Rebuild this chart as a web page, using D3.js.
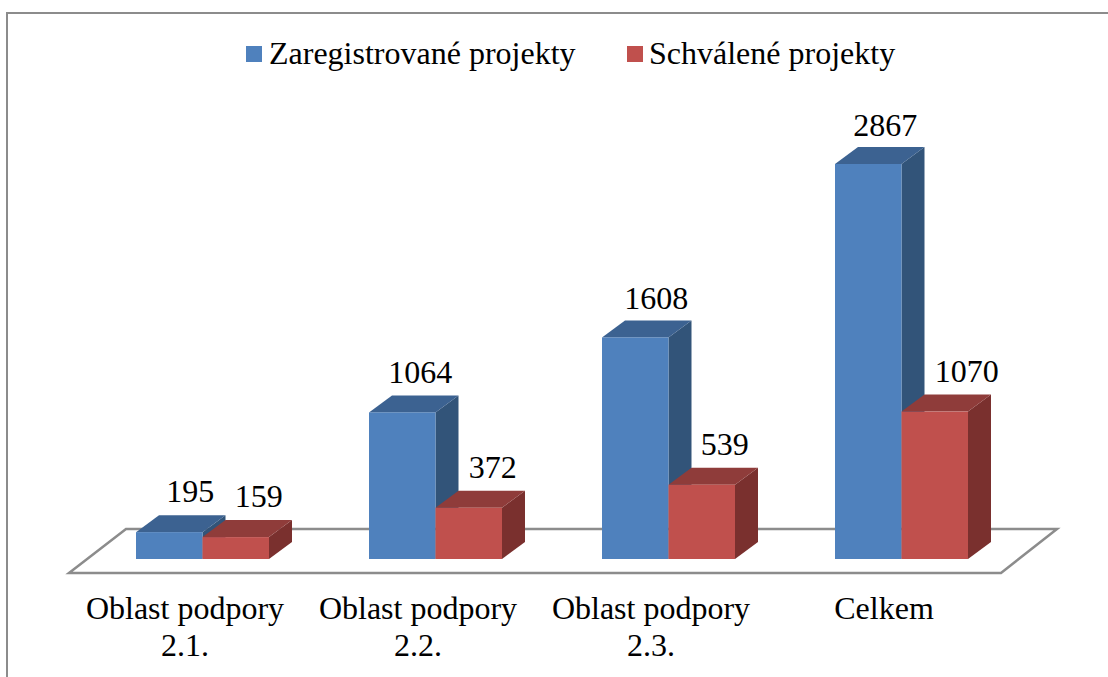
<!DOCTYPE html>
<html>
<head>
<meta charset="utf-8">
<script src="https://cdn.jsdelivr.net/npm/d3@7"></script>
<style>
  html, body { margin: 0; padding: 0; background: #fff; }
  svg { display: block; }
  text { font-family: "Liberation Serif", serif; fill: #000; }
</style>
</head>
<body>
<svg width="1108" height="677"></svg>
<script>
const categories = ['Oblast podpory 2.1.', 'Oblast podpory 2.2.', 'Oblast podpory 2.3.', 'Celkem'];
const seriesNames = ['Zaregistrované projekty', 'Schválené projekty'];
const registered = [195, 1064, 1608, 2867];
const approved = [159, 372, 539, 1070];

// label wrapping for the category axis
const categoryLines = [['Oblast podpory', '2.1.'], ['Oblast podpory', '2.2.'], ['Oblast podpory', '2.3.'], ['Celkem']];

const colors = [
  { front: '#4f81bd', top: '#3c6291', side: '#325479' },
  { front: '#c0504d', top: '#8f3c3a', side: '#7a302e' }
];

const svg = d3.select('svg');
const fontSize = 32;
const baseY = 559;
const depthX = 23;
const depthY = 17;

const x = d3.scaleBand().domain(categories).range([86.5, 1018.5]);
const inner = d3.scaleBand().domain(d3.range(2)).range([49.5, 182.5]);
const y = d3.scaleLinear().domain([0, 2867]).range([baseY, 164]);

// outer frame, only left and top are visible
svg.append('path')
  .attr('d', 'M7,677V13H1108')
  .attr('fill', 'none')
  .attr('stroke', '#8c8c8c')
  .attr('stroke-width', 2);

// floor of the 3d plot
svg.append('path')
  .attr('d', d3.line()([[69, 573], [1001, 573], [1057, 529], [126, 529]]) + 'Z')
  .attr('fill', '#fff')
  .attr('stroke', '#8c8c8c')
  .attr('stroke-width', 2.5);

const points = [];
categories.forEach((c, i) => {
  points.push({ cat: c, s: 0, v: registered[i], i });
  points.push({ cat: c, s: 1, v: approved[i], i });
});

const bars = svg.append('g')
  .selectAll('g')
  .data(points)
  .join('g');

const barW = inner.bandwidth();
const barX = d => x(d.cat) + inner(d.s);

// side face
bars.append('path')
  .attr('fill', d => colors[d.s].side)
  .attr('d', d => {
    const r = barX(d) + barW;
    return d3.line()([[r, y(d.v)], [r + depthX, y(d.v) - depthY], [r + depthX, baseY - depthY], [r, baseY]]) + 'Z';
  });

// top face
bars.append('path')
  .attr('fill', d => colors[d.s].top)
  .attr('d', d => {
    const l = barX(d);
    const t = y(d.v);
    return d3.line()([[l, t], [l + depthX, t - depthY], [l + barW + depthX, t - depthY], [l + barW, t]]) + 'Z';
  });

// front face
bars.append('rect')
  .attr('x', barX)
  .attr('y', d => y(d.v))
  .attr('width', barW)
  .attr('height', d => baseY - y(d.v))
  .attr('fill', d => colors[d.s].front);

// value labels sit up and to the right of each bar
const labelDx = [[21, 18, 21, 17], [23, 24, 23, 32]];
const labelDy = [30, 29, 28, 28];
svg.append('g')
  .selectAll('text')
  .data(points)
  .join('text')
  .attr('x', d => barX(d) + barW / 2 + labelDx[d.s][d.i])
  .attr('y', d => y(d.v) - (d.s === 0 ? labelDy[d.i] : 30))
  .attr('text-anchor', 'middle')
  .style('font-size', fontSize + 'px')
  .text(d => d.v);

// category axis
const axis = svg.append('g')
  .attr('transform', 'translate(-18,0)')
  .call(d3.axisBottom(x).tickSize(0));
axis.select('.domain').remove();
axis.selectAll('.tick').attr('transform', d => `translate(${x(d) + x.bandwidth() / 2},0)`);
axis.selectAll('.tick text').remove();
axis.selectAll('.tick')
  .append('text')
  .attr('text-anchor', 'middle')
  .style('font-size', fontSize + 'px')
  .selectAll('tspan')
  .data((d, i) => categoryLines[i].map((l, n) => ({ l, n })))
  .join('tspan')
  .attr('x', 0)
  .attr('y', d => 619 + d.n * 37)
  .text(d => d.l);

// legend
const legendX = [246, 627];
const legend = svg.append('g')
  .selectAll('g')
  .data(seriesNames)
  .join('g')
  .attr('transform', (d, i) => `translate(${legendX[i]},46)`);
legend.append('rect')
  .attr('width', 16)
  .attr('height', 16)
  .attr('fill', (d, i) => colors[i].front);
legend.append('text')
  .attr('x', (d, i) => i === 0 ? 23 : 22)
  .attr('y', 18)
  .style('font-size', fontSize + 'px')
  .text(d => d);
</script>
</body>
</html>
